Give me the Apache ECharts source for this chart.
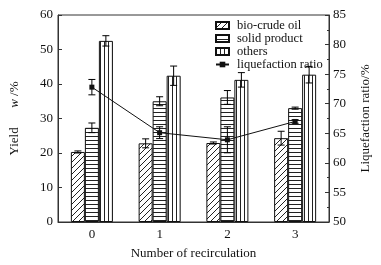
<!DOCTYPE html>
<html>
<head>
<meta charset="utf-8">
<script src="https://cdn.jsdelivr.net/npm/echarts@6/dist/echarts.min.js"></script>
<style>
  html, body { margin: 0; padding: 0; background: #fff; }
  #chart { width: 381px; height: 265px; }
</style>
</head>
<body>
<div id="chart"></div>
<script>
// data
var categories = ['0', '1', '2', '3'];
var bioCrude = [20.3, 22.8, 22.9, 24.3];
var bioCrudeErr = [0.3, 1.3, 0.3, 2.0];
var solidProduct = [27.3, 35.0, 36.1, 33.0];
var solidProductErr = [1.4, 1.3, 2.0, 0.3];
var others = [52.5, 42.4, 41.2, 42.7];
var othersErr = [1.5, 2.8, 2.1, 2.4];
var liqRatio = [72.8, 65.1, 63.9, 67.0];
var liqRatioErr = [1.3, 1.0, 2.2, 0.3];

var FONT = '"Liberation Serif", "Times New Roman", serif';

// hatch patterns
function makePattern(kind) {
  var c = document.createElement('canvas');
  var s = kind === 'diag' ? 6 : 4;
  c.width = s; c.height = s;
  var g = c.getContext('2d');
  g.fillStyle = '#fff';
  g.fillRect(0, 0, s, s);
  g.strokeStyle = '#222';
  g.lineWidth = 1;
  g.beginPath();
  if (kind === 'diag') {
    g.moveTo(0, s); g.lineTo(s, 0);
    g.moveTo(-1, 1); g.lineTo(1, -1);
    g.moveTo(s - 1, s + 1); g.lineTo(s + 1, s - 1);
  } else if (kind === 'horiz') {
    g.moveTo(0, 0.5); g.lineTo(s, 0.5);
  } else {
    g.moveTo(0.5, 0); g.lineTo(0.5, s);
  }
  g.stroke();
  return { image: c, repeat: 'repeat' };
}

var barW = 14;

// error bar drawn with a custom series, shifted to the bar it belongs to
function errSeries(vals, errs, offset, yIdx) {
  return {
    type: 'custom',
    yAxisIndex: yIdx,
    silent: true,
    z: 5,
    data: vals.map(function (v, i) { return [i, v - errs[i], v + errs[i]]; }),
    renderItem: function (params, api) {
      var lo = api.coord([api.value(0), api.value(1)]);
      var hi = api.coord([api.value(0), api.value(2)]);
      var x = lo[0] + offset;
      var half = 3.5;
      var st = { stroke: '#000', lineWidth: 1 };
      return {
        type: 'group',
        children: [
          { type: 'line', shape: { x1: x, y1: lo[1], x2: x, y2: hi[1] }, style: st },
          { type: 'line', shape: { x1: x - half, y1: lo[1], x2: x + half, y2: lo[1] }, style: st },
          { type: 'line', shape: { x1: x - half, y1: hi[1], x2: x + half, y2: hi[1] }, style: st }
        ]
      };
    }
  };
}

var chart = echarts.init(document.getElementById('chart'));

var option = {
  animation: false,
  textStyle: { fontFamily: FONT },
  grid: {
    left: 55, right: 52, top: 15, bottom: 43,
    show: true, borderColor: '#333', borderWidth: 1, backgroundColor: 'transparent'
  },
  legend: {
    orient: 'vertical',
    left: 215, top: 19,
    padding: 0,
    itemWidth: 13, itemHeight: 7, itemGap: 0,
    textStyle: { fontFamily: FONT, fontSize: 12.5, lineHeight: 12.7, color: '#111', padding: [0, 0, 0, 3] },
    data: [
      { name: 'bio-crude oil', icon: 'rect' },
      { name: 'solid product', icon: 'rect' },
      { name: 'others', icon: 'rect' },
      { name: 'liquefaction ratio' }
    ]
  },
  xAxis: {
    type: 'category',
    data: categories,
    name: 'Number of recirculation',
    nameLocation: 'middle',
    nameGap: 25,
    nameTextStyle: { fontFamily: FONT, fontSize: 13, color: '#111' },
    axisLine: { lineStyle: { color: '#333' } },
    axisTick: { inside: true, alignWithLabel: true, length: 4, lineStyle: { color: '#333' } },
    axisLabel: { fontFamily: FONT, fontSize: 13, color: '#111', margin: 6 }
  },
  yAxis: [
    {
      type: 'value',
      min: 0, max: 60, interval: 10,
      name: 'Yield      {w|w} /%',
      nameLocation: 'middle',
      nameRotate: 90,
      nameGap: 37,
      nameTextStyle: {
        fontFamily: FONT, fontSize: 13, color: '#111',
        rich: { w: { fontFamily: FONT, fontSize: 13, fontStyle: 'italic', color: '#111' } }
      },
      axisLine: { show: true, lineStyle: { color: '#333' } },
      axisTick: { show: true, inside: true, length: 4, lineStyle: { color: '#333' } },
      axisLabel: { fontFamily: FONT, fontSize: 13, color: '#111', margin: 5 },
      splitLine: { show: false }
    },
    {
      type: 'value',
      min: 50, max: 85, interval: 5,
      name: 'Liquefaction ratio/%',
      nameLocation: 'middle',
      nameRotate: 90,
      nameGap: 30,
      nameTextStyle: { fontFamily: FONT, fontSize: 13, color: '#111' },
      axisLine: { show: true, lineStyle: { color: '#333' } },
      axisTick: { show: true, inside: true, length: 4, lineStyle: { color: '#333' } },
      minorTick: { show: true, splitNumber: 2, length: 2, lineStyle: { color: '#333' } },
      axisLabel: { fontFamily: FONT, fontSize: 13, color: '#111', margin: 4 },
      splitLine: { show: false }
    }
  ],
  series: [
    {
      name: 'bio-crude oil', type: 'bar', data: bioCrude,
      barWidth: barW, barGap: '0%',
      itemStyle: { color: makePattern('diag'), borderColor: '#111', borderWidth: 1 }
    },
    {
      name: 'solid product', type: 'bar', data: solidProduct,
      barWidth: barW, barGap: '0%',
      itemStyle: { color: makePattern('horiz'), borderColor: '#111', borderWidth: 1 }
    },
    {
      name: 'others', type: 'bar', data: others,
      barWidth: barW, barGap: '0%',
      itemStyle: { color: makePattern('vert'), borderColor: '#111', borderWidth: 1 }
    },
    {
      name: 'liquefaction ratio', type: 'line', yAxisIndex: 1, data: liqRatio,
      symbol: 'rect', symbolSize: 5, z: 6,
      lineStyle: { color: '#111', width: 1 },
      itemStyle: { color: '#111' }
    },
    errSeries(bioCrude, bioCrudeErr, -barW, 0),
    errSeries(solidProduct, solidProductErr, 0, 0),
    errSeries(others, othersErr, barW, 0),
    errSeries(liqRatio, liqRatioErr, 0, 1)
  ]
};

chart.setOption(option);
</script>
</body>
</html>
